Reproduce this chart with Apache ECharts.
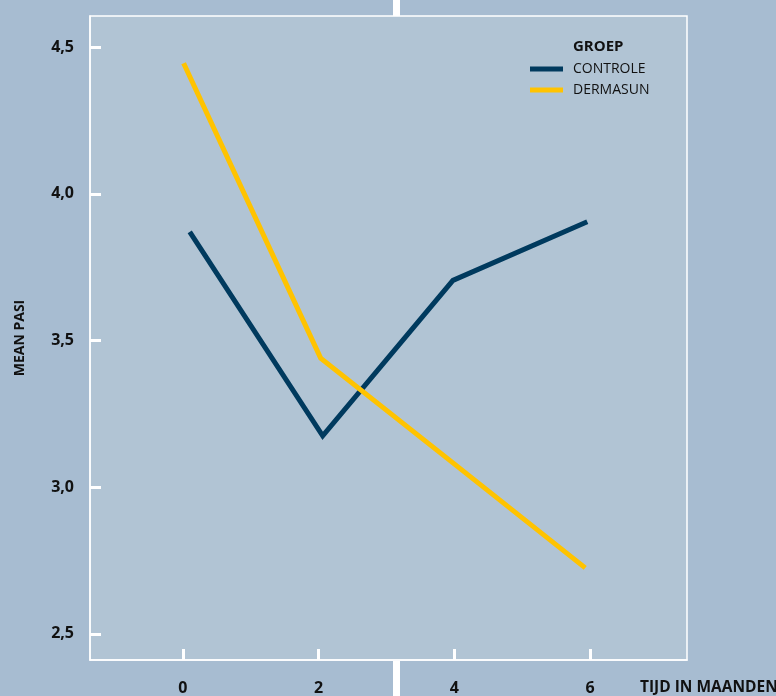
<!DOCTYPE html>
<html>
<head>
<meta charset="utf-8">
<script src="https://cdn.jsdelivr.net/npm/echarts@6/dist/echarts.min.js"></script>
<style>
html,body{margin:0;padding:0;background:#a7bcd1;}
#c{width:776px;height:696px;}
</style>
</head>
<body>
<div id="c"></div>
<script>
var seriesNames = ['CONTROLE', 'DERMASUN'];
var controleX = [0.10, 2.06, 3.98, 5.96];
var controleY = [3.87, 3.175, 3.705, 3.905];
var dermasunX = [0.01, 2.03, 3.98, 5.93];
var dermasunY = [4.445, 3.44, 3.083, 2.725];
var yTicks = [2.5, 3.0, 3.5, 4.0, 4.5];
var xTicks = [0, 2, 4, 6];
var legendTitle = 'GROEP';
var xName = 'TIJD IN MAANDEN';
var yName = 'MEAN PASI';

function pairs(xs, ys){ return xs.map(function(x,i){ return [x, ys[i]]; }); }
var font = 'Open Sans';

var chart = echarts.init(document.getElementById('c'), null, {renderer:'canvas'});
chart.setOption({
  backgroundColor: '#a7bcd1',
  animation: false,
  grid: {
    left: 90, right: 89, top: 16, bottom: 36,
    show: true, backgroundColor: '#b1c4d4', borderColor: '#ffffff', borderWidth: 1.5
  },
  title: {
    text: legendTitle, left: 573, top: 39, padding: 0,
    textStyle: {fontFamily: font, fontWeight: 'bold', fontSize: 15, color: '#111'}
  },
  legend: {
    orient: 'vertical', left: 530, top: 62, itemGap: 7, padding: 0,
    itemWidth: 33, itemHeight: 5, icon: 'rect',
    data: seriesNames,
    textStyle: {fontFamily: font, fontSize: 14, color: '#111', padding: [0,0,0,5]}
  },
  xAxis: {
    type: 'value', min: -1.37, max: 7.43,
    axisLine: {show: true, onZero: false, lineStyle: {color: '#fff', width: 1.5}},
    axisTick: {show: true, inside: true, length: 11, customValues: xTicks, lineStyle: {color: '#fff', width: 3}},
    axisLabel: {customValues: xTicks, margin: 20, fontFamily: font, fontWeight: 'bold', fontSize: 16, color: '#111'},
    splitLine: {show: false}
  },
  yAxis: {
    type: 'value', min: 2.411, max: 4.606,
    name: yName, nameLocation: 'middle', nameGap: 63, nameRotate: 90,
    nameTextStyle: {fontFamily: font, fontWeight: 'bold', fontSize: 14, color: '#111'},
    axisLine: {show: true, onZero: false, lineStyle: {color: '#fff', width: 1.5}},
    axisTick: {show: true, inside: true, length: 11, customValues: yTicks, lineStyle: {color: '#fff', width: 3}},
    axisLabel: {customValues: yTicks, margin: 16, fontFamily: font, fontWeight: 'bold', fontSize: 16, color: '#111',
      formatter: function(v){ return v.toFixed(1).replace('.', ','); }},
    splitLine: {show: false}
  },
  graphic: [
    {type: 'rect', shape: {x: 393, y: 0, width: 7, height: 16}, style: {fill: '#ffffff'}, z: 100},
    {type: 'rect', shape: {x: 393, y: 661, width: 7, height: 35}, style: {fill: '#ffffff'}, z: 100},
    {type: 'text', left: 640, top: 680, style: {text: xName, fontFamily: font, fontWeight: 'bold', fontSize: 15.5, fill: '#111'}}
  ],
  series: [
    {name: seriesNames[0], type: 'line', data: pairs(controleX, controleY), symbol: 'none',
      lineStyle: {color: '#003a5e', width: 5, cap: 'butt', join: 'miter'}, itemStyle: {color: '#003a5e'}},
    {name: seriesNames[1], type: 'line', data: pairs(dermasunX, dermasunY), symbol: 'none',
      lineStyle: {color: '#ffc300', width: 5, cap: 'butt', join: 'miter'}, itemStyle: {color: '#ffc300'}}
  ]
});
</script>
</body>
</html>
